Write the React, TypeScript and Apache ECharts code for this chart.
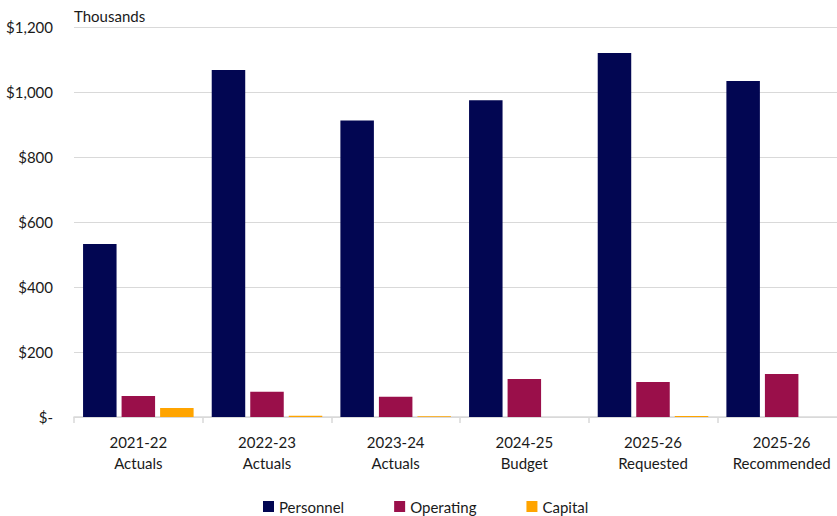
import React, { useEffect, useRef } from "react";
import * as echarts from "echarts";

const categories = [
  "2021-22\nActuals",
  "2022-23\nActuals",
  "2023-24\nActuals",
  "2024-25\nBudget",
  "2025-26\nRequested",
  "2025-26\nRecommended",
];
const personnel = [532, 1068, 912, 975, 1120, 1034];
const operating = [65, 78, 62, 117, 108, 132];
const capital = [28, 4, 2, 0, 3, 0];
const yTicks = { min: 0, max: 1200, interval: 200 };

const FONT = "Lato, 'Open Sans', sans-serif";

export default function App() {
  const ref = useRef<HTMLDivElement>(null);
  useEffect(() => {
    if (!ref.current) return;
    const chart = echarts.init(ref.current, undefined, { renderer: "svg" });
    const barStyle = (c: string) => ({ color: c });
    chart.setOption({
      animation: false,
      textStyle: { fontFamily: FONT },
      grid: { left: 74, right: 0, top: 27, height: 390, containLabel: false },
      graphic: [
        {
          type: "text",
          left: 74,
          top: 8,
          style: { text: "Thousands", font: `15px ${FONT}`, fill: "#1a1a1a" },
        },
      ],
      legend: {
        top: 494,
        left: 258,
        itemWidth: 11,
        itemHeight: 11,
        itemGap: 50,
        icon: "rect",
        textStyle: { fontSize: 15, color: "#1a1a1a", fontFamily: FONT },
        data: ["Personnel", "Operating", "Capital"],
      },
      xAxis: {
        type: "category",
        data: categories,
        axisLine: { lineStyle: { color: "#d9d9d9", width: 1.5 } },
        axisTick: { show: true, interval: 0, length: 6, lineStyle: { color: "#d9d9d9", width: 1.5 } },
        axisLabel: {
          interval: 0,
          fontSize: 15,
          color: "#1a1a1a",
          lineHeight: 21,
          margin: 14,
          fontFamily: FONT,
        },
      },
      yAxis: {
        type: "value",
        min: yTicks.min,
        max: yTicks.max,
        interval: yTicks.interval,
        axisLine: { show: false },
        axisTick: { show: false },
        splitLine: { lineStyle: { color: "#d9d9d9", width: 1 } },
        axisLabel: {
          fontSize: 15,
          color: "#1a1a1a",
          margin: 21,
          fontFamily: FONT,
          formatter: (v: number) => (v === 0 ? "$-" : "$" + v.toLocaleString("en-US")),
        },
      },
      series: [
        {
          name: "Personnel",
          type: "bar",
          data: personnel,
          barWidth: 33.5,
          barGap: "15%",
          itemStyle: barStyle("#020652"),
        },
        {
          name: "Operating",
          type: "bar",
          data: operating,
          barWidth: 33.5,
          barGap: "15%",
          itemStyle: barStyle("#9a0f4a"),
        },
        {
          name: "Capital",
          type: "bar",
          data: capital,
          barWidth: 33.5,
          barGap: "15%",
          itemStyle: barStyle("#ffa400"),
        },
      ],
    });
    return () => chart.dispose();
  }, []);
  return (
    <div
      style={{
        position: "fixed",
        left: 0,
        top: 0,
        width: 837,
        height: 516,
        overflow: "hidden",
        background: "#fff",
      }}
    >
      <div ref={ref} style={{ width: 846, height: 516 }} />
    </div>
  );
}
